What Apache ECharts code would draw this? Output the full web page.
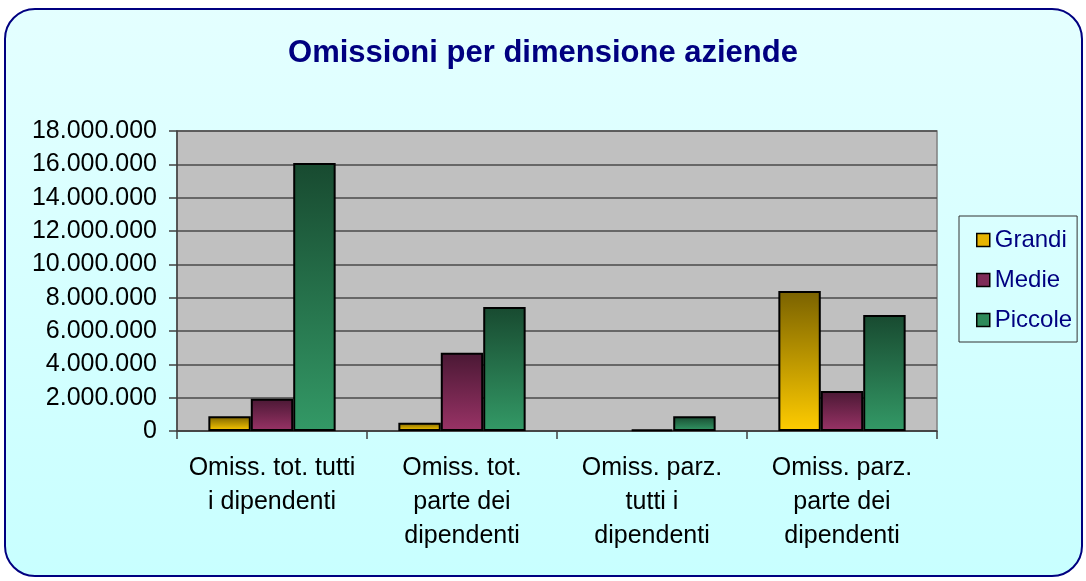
<!DOCTYPE html>
<html>
<head>
<meta charset="utf-8">
<script src="https://cdn.jsdelivr.net/npm/echarts@6/dist/echarts.min.js"></script>
<style>
html,body{margin:0;padding:0;background:#ffffff;}
#chart{width:1086px;height:581px;}
</style>
</head>
<body>
<div id="chart"></div>
<script>
const chartTitle = 'Omissioni per dimensione aziende';
const categories = [
  'Omiss. tot. tutti\ni dipendenti',
  'Omiss. tot.\nparte dei\ndipendenti',
  'Omiss. parz.\ntutti i\ndipendenti',
  'Omiss. parz.\nparte dei\ndipendenti'
];
const seriesNames = ['Grandi', 'Medie', 'Piccole'];
const grandi  = [880000, 500000, 0, 8400000];
const medie   = [1940000, 4700000, 100000, 2400000];
const piccole = [16080000, 7440000, 880000, 6960000];
const yTicks = { min: 0, max: 18000000, interval: 2000000 };

const gradTop = ['#7a6200', '#4a1834', '#184a30'];
const gradBottom = ['#ffcc00', '#993366', '#339966'];
const legendColors = ['#e6b400', '#7e2c58', '#2e8a5a'];

function grad(i) {
  return new echarts.graphic.LinearGradient(0, 0, 0, 1, [
    { offset: 0, color: gradTop[i] },
    { offset: 1, color: gradBottom[i] }
  ]);
}
function fmt(v) {
  return String(Math.round(v)).replace(/\B(?=(\d{3})+(?!\d))/g, '.');
}

const chart = echarts.init(document.getElementById('chart'), null, { renderer: 'canvas' });
const values = [grandi, medie, piccole];

const option = {
  animation: false,
  textStyle: { fontFamily: 'Liberation Sans, Arial, sans-serif' },
  graphic: [{
    type: 'rect',
    z: -10,
    shape: { x: 5, y: 9, width: 1077, height: 567, r: 30 },
    style: {
      fill: new echarts.graphic.LinearGradient(0, 0, 0, 1, [
        { offset: 0, color: '#e4ffff' },
        { offset: 1, color: '#c8ffff' }
      ]),
      stroke: '#000080',
      lineWidth: 2
    },
    silent: true
  }],
  title: {
    text: chartTitle,
    left: 'center',
    top: 33,
    padding: [5, 5, 5, 21],
    textStyle: { color: '#000080', fontSize: 31, fontWeight: 'bold', fontFamily: 'Liberation Sans, Arial, sans-serif' }
  },
  legend: {
    orient: 'vertical',
    left: 959,
    top: 216,
    padding: [12, 5, 10, 17],
    itemGap: 16,
    itemWidth: 13,
    itemHeight: 13,
    itemTextGap: 12,
    borderColor: '#333333',
    borderWidth: 1,
    icon: 'rect',
    textStyle: { color: '#000080', fontSize: 24, lineHeight: 24, fontFamily: 'Liberation Sans, Arial, sans-serif' },
    data: seriesNames.map((n, i) => ({
      name: n,
      itemStyle: { color: legendColors[i], borderColor: '#000000', borderWidth: 1.5 }
    }))
  },
  grid: {
    left: 177, right: 149, top: 131, bottom: 150,
    show: true,
    backgroundColor: '#c0c0c0',
    borderColor: '#808080',
    borderWidth: 1.5
  },
  xAxis: {
    type: 'category',
    data: categories,
    axisLine: { lineStyle: { color: '#404040', width: 1.5 } },
    axisTick: { show: true, alignWithLabel: false, length: 8, lineStyle: { color: '#404040', width: 1.5 } },
    axisLabel: {
      color: '#000000', fontSize: 25, lineHeight: 34, margin: 20, interval: 0,
      fontFamily: 'Liberation Sans, Arial, sans-serif'
    }
  },
  yAxis: {
    type: 'value',
    min: yTicks.min, max: yTicks.max, interval: yTicks.interval,
    axisLine: { show: true, lineStyle: { color: '#404040', width: 1.5 } },
    axisTick: { show: true, length: 8, lineStyle: { color: '#404040', width: 1.5 } },
    splitLine: { show: true, lineStyle: { color: '#4a4a4a', width: 1.5 } },
    axisLabel: {
      color: '#000000', fontSize: 25, margin: 20,
      fontFamily: 'Liberation Sans, Arial, sans-serif',
      formatter: fmt
    }
  },
  series: seriesNames.map((n, i) => ({
    name: n,
    type: 'bar',
    data: values[i].map(v => v === 0 ? { value: v, itemStyle: { borderWidth: 0 } } : v),
    barGap: '0%',
    barCategoryGap: '33%',
    itemStyle: { color: grad(i), borderColor: '#000000', borderWidth: 2 }
  }))
};
chart.setOption(option);
</script>
</body>
</html>
